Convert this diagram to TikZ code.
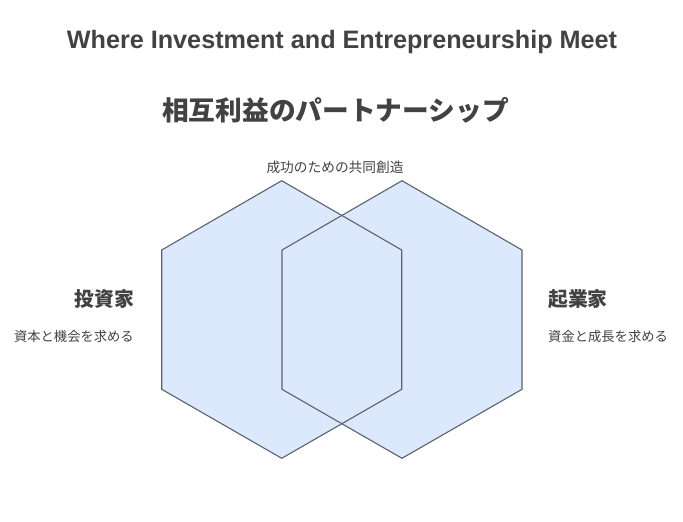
\documentclass[tikz,border=0pt]{standalone}
\usepackage{fontspec}
\setmainfont{Liberation Sans}
\newfontfamily\jp{Noto Sans CJK JP}
\usetikzlibrary{positioning}
\definecolor{hexfill}{HTML}{DCE8FC}
\definecolor{hexline}{HTML}{5A636D}
\definecolor{txt}{HTML}{424242}
\tikzset{
  hexa/.style={draw=hexline, line width=1.1pt, line join=miter},
  lbl/.style={text=txt, inner sep=0pt}
}
\begin{document}
\begin{tikzpicture}[x=1pt,y=-1pt]
\useasboundingbox[fill=white] (0,0) rectangle (683,522);

% the two hexagons: fill first, then the outlines
\foreach \cx in {281.7,402} {
  \fill[hexfill] (\cx,180.7) -- (\cx+120,250) -- (\cx+120,389.3) -- (\cx,458.3) -- (\cx-120,389.3) -- (\cx-120,250) -- cycle;
}
\foreach \cx in {281.7,402} {
  \draw[hexa] (\cx,180.7) -- (\cx+120,250) -- (\cx+120,389.3) -- (\cx,458.3) -- (\cx-120,389.3) -- (\cx-120,250) -- cycle;
}

\node[lbl, font=\bfseries\fontsize{25.2}{28}\selectfont] (title) at (342,42) {Where Investment and Entrepreneurship Meet};
\node[lbl, font=\jp\bfseries\fontsize{26.7}{30}\selectfont] (subtitle) at (335.5,110) {相互利益のパートナーシップ};
\node[lbl, font=\jp\fontsize{13.7}{16}\selectfont] (common) at (335,167) {成功のための共同創造};

\tikzset{anchor=east}
\node[lbl, font=\jp\bfseries\fontsize{19.8}{22}\selectfont] (investor) at (134,299) {投資家};
\node[lbl, font=\jp\fontsize{13.3}{16}\selectfont] (investorneed) at (134,336) {資本と機会を求める};
\tikzset{anchor=west}
\node[lbl, font=\jp\bfseries\fontsize{19.8}{22}\selectfont] (founder) at (548,299) {起業家};
\node[lbl, font=\jp\fontsize{13.3}{16}\selectfont] (founderneed) at (548,336) {資金と成長を求める};
\end{tikzpicture}
\end{document}
